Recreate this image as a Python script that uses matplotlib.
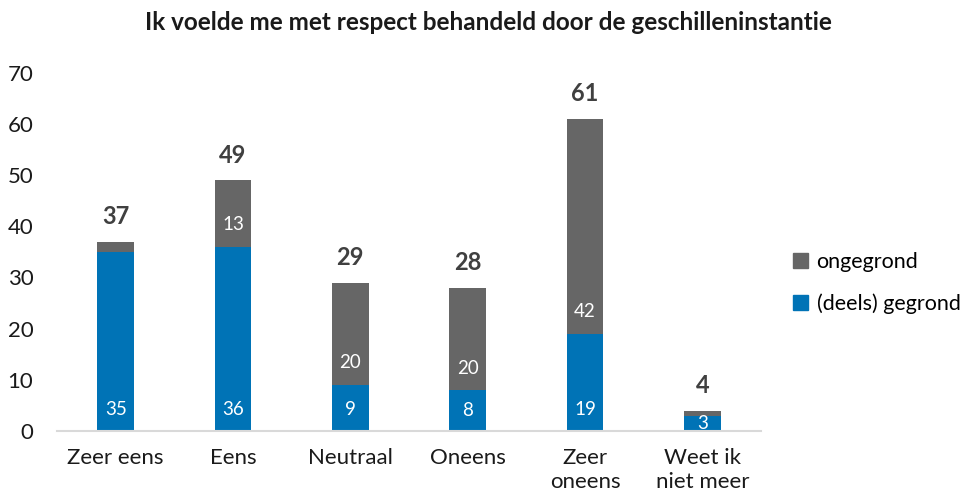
import matplotlib
matplotlib.use("Agg")
import matplotlib.pyplot as plt
import numpy as np
from matplotlib.patches import Patch

categories = ["Zeer eens", "Eens", "Neutraal", "Oneens", "Zeer\noneens", "Weet ik\nniet meer"]
gegrond = [35, 36, 9, 8, 19, 3]
ongegrond = [2, 13, 20, 20, 42, 1]
totals = [37, 49, 29, 28, 61, 4]
yticks = [0, 10, 20, 30, 40, 50, 60, 70]

blue = "#0073B6"
grey = "#666666"

plt.rcParams['font.family'] = ['Lato', 'DejaVu Sans']

fig = plt.figure(figsize=(9.76, 5.03), dpi=100)
ax = fig.add_axes([0.0584, 0.1431, 0.7213, 0.7124])

x = np.arange(len(categories))
w = 0.315
b1 = ax.bar(x, gegrond, w, color=blue, zorder=2)
b2 = ax.bar(x, ongegrond, w, bottom=gegrond, color=grey, zorder=2)

ax.set_xlim(-0.5, len(categories) - 0.5)
ax.set_ylim(0, 70)
ax.set_yticks(yticks)
ax.set_xticks(x)
ax.set_xticklabels(categories, fontsize=16, color="#1a1a1a", linespacing=1.3)
ax.tick_params(axis='y', length=0, pad=17, labelsize=16, labelcolor="#1a1a1a")
ax.tick_params(axis='x', length=0, pad=12)
for s in ["top", "right", "left"]:
    ax.spines[s].set_visible(False)
ax.spines["bottom"].set_color("#D9D9D9")
ax.spines["bottom"].set_linewidth(1.5)

# labels sit near the base of each segment
px_per_unit = (0.7124 * 503) / 70
def seg_label(xi, base, val):
    off = min(22, val * px_per_unit / 2)
    ax.annotate(str(val), (xi, base), xytext=(0, off * 0.72), textcoords="offset points",
                ha="center", va="center", color="white", fontsize=13.5, zorder=3)

for i in range(len(categories)):
    if gegrond[i] >= 3:
        seg_label(x[i], 0, gegrond[i])
    if ongegrond[i] >= 3:
        seg_label(x[i], gegrond[i], ongegrond[i])
    ax.annotate(str(totals[i]), (x[i], totals[i]), xytext=(0, 18), textcoords="offset points",
                ha="center", va="center", color="#404040", fontsize=17, fontweight="bold")

fig.text(0.5, 0.956, "Ik voelde me met respect behandeld door de geschilleninstantie",
         ha="center", va="center", fontsize=17.5, fontweight="bold", color="#1a1a1a")

handles = [Patch(color=grey), Patch(color=blue)]
fig.legend(handles, ["ongegrond", "(deels) gegrond"], loc="center left",
           bbox_to_anchor=(0.797, 0.437), frameon=False, fontsize=15.5,
           handlelength=0.7, handleheight=0.7, handletextpad=0.4, labelspacing=1.0,
           borderpad=0.2)

fig.savefig("out.png", dpi=100)
